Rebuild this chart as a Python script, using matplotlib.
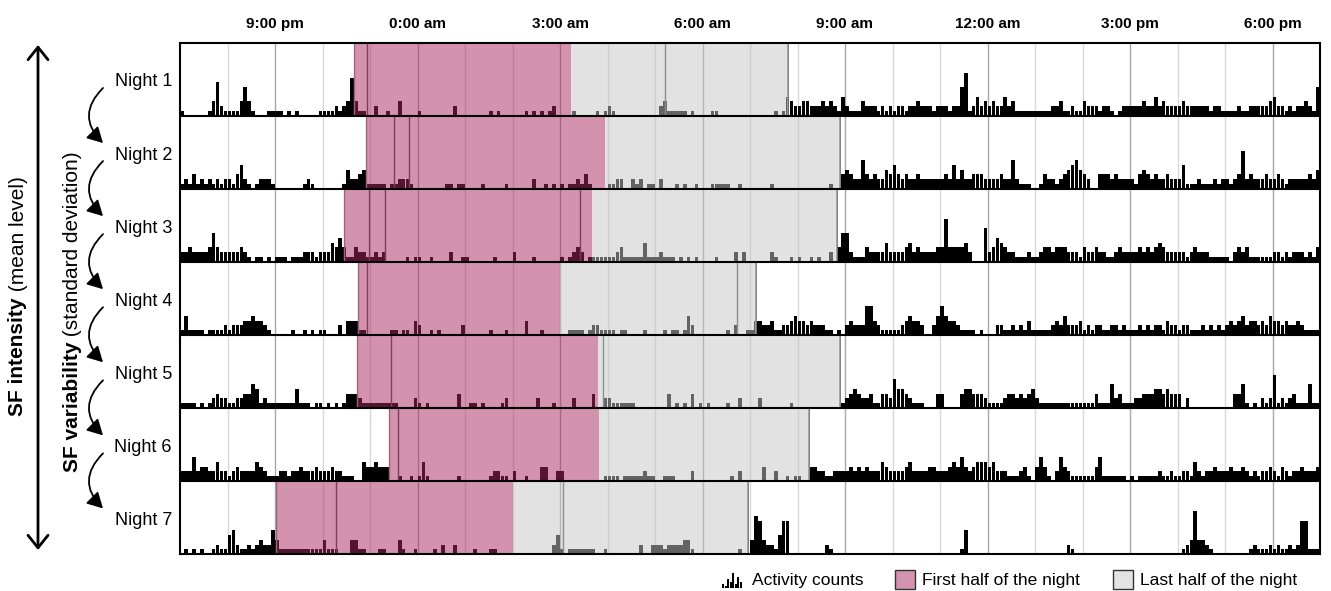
import numpy as np
import matplotlib.pyplot as plt
from matplotlib.patches import Rectangle, FancyArrowPatch

plt.rcParams['font.family'] = ['Liberation Sans', 'DejaVu Sans']

## activity counts, 5-min bins, one group of 12 per hour starting at 7:00 pm
night1 = ("100000013721 111363100011 110101000001 111212383110 020010030000 100000000200 "
          "000000101000 000101010120 000100000101 210000000000 023111110100 001100000000 "
          "000000101432 233222323214 211132221212 122122322212 221226912423 232242311111 "
          "111122311211 322212210122 222322423222 232222221221 111211222223 422121223216")
night2 = ("121312121212 213521012221 000000012100 000001422341 111101122210 000000011011 "
          "000010000010 000002001010 101121310000 112200212011 020001010010 001111100100 "
          "000001000000 000000001003 432263232243 532322322222 232524223332 222322621110 "
          "013221234564 320033323222 213432322322 251112111212 212382322232 232122222324")
night3 = ("223222236322 222321011010 111011122212 224353113221 121200000101 100100002001 "
          "100000010000 200001000000 101232011111 112311111411 121110101010 000100002020 "
          "000002100010 100101002036 621113222242 222342322223 393333420007 235432211121 "
          "123323332221 322322112322 223232343222 221232221111 102323111111 221212221213")
night4 = ("141111011112 122233433210 000010010101 100020333110 000001101103 200101000002 "
          "000000100010 000300010000 001111012211 110110000100 001011014200 000000102001 "
          "133223112234 332322211010 232226632111 112343320024 643321111010 002211212131 "
          "111123242223 121221122121 112121221322 122111212121 232342332324 332322321111")
night5 = ("111101012322 112233541211 111114111011 010101333211 111111100002 101000000030 "
          "011010000120 000000200010 000200003002 211111100000 000301010301 010000100200 "
          "002000000010 000000000001 234322311332 644321110003 300003443332 111123323234 "
          "211111111111 111311152311 122333443433 302000000000 003351010212 712123111511")
night6 = ("222523322422 123222243211 122122322232 223221110043 343330010010 141000000010 "
          "000000122110 200100033002 200000000001 111011111211 001110000200 000000010200 "
          "000300200101 100332211222 232323222432 222342222332 223435323444 342221112310 "
          "353102532111 111351111110 101111121121 122142122322 232232121223 213212232223")
night7 = ("010101001211 452112123225 311111111111 311100033110 001100031001 000010200200 "
          "001000110000 000000000024 101111111001 000000002002 221222233100 000000000100 "
          "387322147700 000000021000 000000000000 000000000000 000001500000 000000000000 "
          "000000002100 000000000000 000000000000 012393321000 000000121112 121121277111")
nights = [night1, night2, night3, night4, night5, night6, night7]
night_names = ["Night 1", "Night 2", "Night 3", "Night 4", "Night 5", "Night 6", "Night 7"]

## hours after 7:00 pm
first_start = [3.66, 3.91, 3.45, 3.74, 3.73, 4.40, 2.02]
half_point = [8.23, 8.94, 8.67, 7.99, 8.79, 8.83, 7.02]
last_end = [12.80, 13.89, 13.83, 12.12, 13.89, 13.24, 11.96]
marker_lines = [[3.94, 10.21], [4.51, 4.82], [3.97, 4.31, 8.42], [3.93, 11.72],
                [4.44, 8.91], [4.59], [3.28, 8.06]]

tick_hours = [2, 5, 8, 11, 14, 17, 20, 23]
tick_labels = ['9:00 pm', '0:00 am', '3:00 am', '6:00 am', '9:00 am', '12:00 am', '3:00 pm', '6:00 pm']
icon_counts = [2, 1, 5, 3, 8, 2, 6, 3]

pink = '#a9275d'
grey = '#c7c7c7'
W, H = 1331, 591


def fx(x):
    return x / W


def fy(y):
    return 1 - y / H


fig = plt.figure(figsize=(W / 100, H / 100), dpi=100)
ax = fig.add_axes([fx(180), fy(554), 1140 / W, 511.5 / H])
ax.set_xlim(0, 24)
ax.set_ylim(0, 7)

for h in range(1, 24):
    ax.axvline(h, color='#a8a8a8' if h % 3 == 2 else '#d8d8d8', lw=1, zorder=1)

for i, s in enumerate(nights):
    vals = np.array([int(c) for c in s.replace(' ', '')])
    base = 6 - i
    x = (np.arange(len(vals)) + 0.5) / 12
    ax.bar(x, vals * 0.065, width=0.92 / 12, bottom=base, color='black', lw=0, zorder=2)
    ax.add_patch(Rectangle((first_start[i], base), half_point[i] - first_start[i], 1,
                           facecolor=pink, alpha=0.5, lw=0, zorder=3))
    ax.add_patch(Rectangle((half_point[i], base), last_end[i] - half_point[i], 1,
                           facecolor=grey, alpha=0.5, lw=0, zorder=3))
    ax.vlines([first_start[i]], base, base + 1, color='#999999', lw=1, zorder=2.5)
    ax.vlines([last_end[i]], base, base + 1, color='#777777', lw=1.3, zorder=2.5)
    ax.vlines(marker_lines[i], base, base + 1, color='#555555', lw=1, zorder=2.5)

for y in range(1, 7):
    ax.axhline(y, color='black', lw=1.5, zorder=5)
for sp in ax.spines.values():
    sp.set_linewidth(1.5)
    sp.set_zorder(6)

ax.set_yticks([])
ax.xaxis.tick_top()
ax.set_xticks(tick_hours)
ax.set_xticklabels(tick_labels, fontsize=11, fontweight='bold')
ax.tick_params(axis='x', length=0, pad=8)

## night labels and curved arrows
label_y = [82 + 73.07 * i for i in range(7)]
for i, name in enumerate(night_names):
    fig.text(fx(172), fy(label_y[i]), name, ha='right', va='center', fontsize=13)
for i in range(6):
    arr = FancyArrowPatch((fx(103), fy(label_y[i] + 6)), (fx(103), fy(label_y[i + 1] - 12)),
                          transform=fig.transFigure, connectionstyle='arc3,rad=0.5',
                          arrowstyle='-|>,head_length=0.55,head_width=0.3', mutation_scale=17,
                          lw=1.3, color='black', shrinkA=0, shrinkB=0)
    fig.patches.append(arr)

## long double arrow and axis titles
big = FancyArrowPatch((fx(38), fy(45)), (fx(38), fy(550)), transform=fig.transFigure,
                      arrowstyle='<->,head_length=0.5,head_width=0.4', mutation_scale=18,
                      lw=2, color='black', shrinkA=0, shrinkB=0)
fig.patches.append(big)
fig.text(fx(18), fy(297), 'SF intensity', rotation=90, rotation_mode='anchor',
         ha='right', va='center', fontsize=15, fontweight='bold')
fig.text(fx(18), fy(297), ' (mean level)', rotation=90, rotation_mode='anchor',
         ha='left', va='center', fontsize=15)
fig.text(fx(73), fy(342), 'SF variability', rotation=90, rotation_mode='anchor',
         ha='right', va='center', fontsize=15, fontweight='bold')
fig.text(fx(73), fy(342), ' (standard deviation)', rotation=90, rotation_mode='anchor',
         ha='left', va='center', fontsize=15)

## legend
iax = fig.add_axes([fx(722), fy(588), 20 / W, 17 / H])
iax.bar(np.arange(len(icon_counts)), icon_counts, width=0.8, color='black')
iax.axhline(0, color='black', lw=1)
iax.set_xlim(-0.5, len(icon_counts) - 0.5)
iax.set_ylim(0, 9)
iax.axis('off')
fig.text(fx(752), fy(581), 'Activity counts', ha='left', va='center', fontsize=12.5)
fig.patches.append(Rectangle((fx(895), fy(589)), 20 / W, 19 / H, transform=fig.transFigure,
                             facecolor='#d493ae', edgecolor='#333333', lw=1))
fig.text(fx(922), fy(581), 'First half of the night', ha='left', va='center', fontsize=12.5)
fig.patches.append(Rectangle((fx(1113), fy(589)), 20 / W, 19 / H, transform=fig.transFigure,
                             facecolor='#e3e3e3', edgecolor='#333333', lw=1))
fig.text(fx(1140), fy(581), 'Last half of the night', ha='left', va='center', fontsize=12.5)

fig.savefig('out.png', dpi=100)
